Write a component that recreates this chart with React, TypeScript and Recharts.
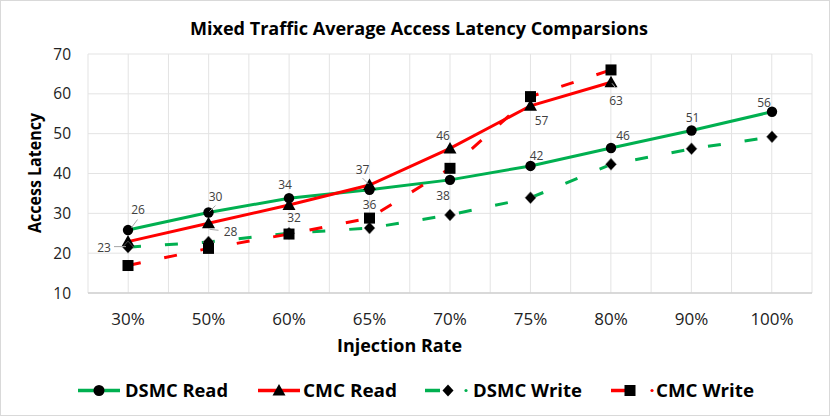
import React from 'react';
import { LineChart, Line, XAxis, YAxis, CartesianGrid, LabelList } from 'recharts';

const CATEGORIES = ['30%', '50%', '60%', '65%', '70%', '75%', '80%', '90%', '100%'];
const DSMC_READ = [25.8, 30.2, 33.8, 35.9, 38.4, 41.9, 46.4, 50.8, 55.5];
const CMC_READ = [22.9, 27.5, 32.1, 37.1, 46.3, 57.0, 62.9, null, null];
const DSMC_WRITE = [21.5, 22.8, 25.0, 26.3, 29.6, 33.9, 42.3, 46.2, 49.2];
const CMC_WRITE = [16.9, 21.2, 24.8, 28.8, 41.3, 59.3, 66.0, null, null];
const Y_TICKS = [10, 20, 30, 40, 50, 60, 70];

const TITLE = 'Mixed Traffic Average Access Latency Comparsions';
const X_TITLE = 'Injection Rate';
const Y_TITLE = 'Access Latency';

const GREEN = '#00b050';
const RED = '#ff0000';
const FONT = '"Open Sans", "DejaVu Sans", sans-serif';

// label placement (offset of label centre from point) and leader lines
const DSMC_READ_LABEL_POS: [number, number][] = [
  [10, -21], [7, -16], [-4, -14], [0, 15], [-7, 16], [6, -10], [12, -13], [1, -13], [-8, -9],
];
const DSMC_READ_LEADERS: (number[] | null)[] = [
  [3.5, -2.5, 9.5, -10.5], [1, -1, 7, -7], null, null, null, null, null, null, null,
];
const CMC_READ_LABEL_POS: [number, number][] = [
  [-24, 6], [22, 8], [5, 13], [-7, -16], [-7, -13], [11, 15], [5, 18],
];
const CMC_READ_LEADERS: (number[] | null)[] = [
  [-14, 5, -2, 5], [1, 6, 10, 7], null, [-7, -7, -1, -1], null, null, [1, 1, 5, 6],
];

const data = CATEGORIES.map((rate, i) => ({
  rate,
  dsmcRead: DSMC_READ[i],
  cmcRead: CMC_READ[i],
  dsmcWrite: DSMC_WRITE[i],
  cmcWrite: CMC_WRITE[i],
}));

const ok = (p: any) => p && p.cx != null && p.cy != null && p.value != null && !isNaN(p.cy);

const CircleDot = (p: any) =>
  ok(p) ? <circle key={`c${p.index}`} cx={p.cx} cy={p.cy} r={5.2} fill="#000" /> : <g key={`c${p.index}`} />;
const TriangleDot = (p: any) =>
  ok(p) ? (
    <path key={`t${p.index}`} d={`M${p.cx},${p.cy - 6.5} L${p.cx + 6.5},${p.cy + 5} L${p.cx - 6.5},${p.cy + 5} Z`} fill="#000" />
  ) : <g key={`t${p.index}`} />;
const DiamondDot = (p: any) =>
  ok(p) ? (
    <path key={`d${p.index}`} d={`M${p.cx},${p.cy - 6} L${p.cx + 5.5},${p.cy} L${p.cx},${p.cy + 6} L${p.cx - 5.5},${p.cy} Z`} fill="#000" stroke="#808080" strokeWidth={0.6} />
  ) : <g key={`d${p.index}`} />;
const SquareDot = (p: any) =>
  ok(p) ? <rect key={`s${p.index}`} x={p.cx - 5.5} y={p.cy - 5.5} width={11} height={11} fill="#000" /> : <g key={`s${p.index}`} />;

const makeLabel = (pos: [number, number][], leaders: (number[] | null)[]) => (props: any) => {
  const { x, y, value, index } = props;
  if (value == null || x == null || y == null) return null;
  const o = pos[index] || [0, -12];
  const l = leaders[index];
  return (
    <g key={`l${index}`}>
      {l && <line x1={x + l[0]} y1={y + l[1]} x2={x + l[2]} y2={y + l[3]} stroke="#a6a6a6" strokeWidth={1} />}
      <text x={x + o[0]} y={y + o[1]} textAnchor="middle" dominantBaseline="central" fontFamily={FONT} fontSize={12} fill="#404040">
        {Math.round(value)}
      </text>
    </g>
  );
};

const gridVerticals = (props: any) => {
  const off = props && props.offset ? props.offset : { left: 88, width: 724 };
  const out: number[] = [];
  for (let i = 0; i <= 18; i++) out.push(off.left + (off.width * i) / 18);
  return out;
};

export default function App() {
  return (
    <div style={{ position: 'absolute', left: 0, top: 0, width: 830, height: 416, background: '#fff' }}>
      <LineChart width={830} height={416} data={data} margin={{ top: 54, right: 18, bottom: 93, left: 28 }}>
        <CartesianGrid stroke="#e3e3e3" strokeWidth={1} verticalCoordinatesGenerator={gridVerticals} />
        <XAxis
          dataKey="rate"
          scale="point"
          padding={{ left: 40, right: 40 }}
          height={30}
          tickLine={false}
          tickSize={0}
          tickMargin={20}
          axisLine={{ stroke: '#d0d0d0', strokeWidth: 1.5 }}
          tick={{ fontFamily: FONT, fontSize: 17, fill: '#222' }}
          interval={0}
        />
        <YAxis
          domain={[10, 70]}
          ticks={Y_TICKS}
          width={60}
          tickLine={false}
          axisLine={false}
          tickSize={0}
          tickMargin={17}
          tick={{ fontFamily: FONT, fontSize: 15.5, fill: '#222' }}
          allowDataOverflow
        />
        <Line dataKey="dsmcRead" stroke={GREEN} strokeWidth={3} dot={CircleDot} activeDot={false} isAnimationActive={false}>
          <LabelList dataKey="dsmcRead" content={makeLabel(DSMC_READ_LABEL_POS, DSMC_READ_LEADERS)} />
        </Line>
        <Line dataKey="cmcRead" stroke={RED} strokeWidth={3} dot={TriangleDot} activeDot={false} isAnimationActive={false}>
          <LabelList dataKey="cmcRead" content={makeLabel(CMC_READ_LABEL_POS, CMC_READ_LEADERS)} />
        </Line>
        <Line dataKey="dsmcWrite" stroke={GREEN} strokeWidth={3} strokeDasharray="13 24" dot={DiamondDot} activeDot={false} isAnimationActive={false} />
        <Line dataKey="cmcWrite" stroke={RED} strokeWidth={3} strokeDasharray="13 24" dot={SquareDot} activeDot={false} isAnimationActive={false} />
      </LineChart>
      <svg width={830} height={416} style={{ position: 'absolute', left: 0, top: 0, pointerEvents: 'none' }}>
        <rect x={0.5} y={0.5} width={829} height={415} fill="none" stroke="#d9d9d9" strokeWidth={1} />
        <text x={419} y={35} textAnchor="middle" fontFamily={FONT} fontWeight="bold" fontSize={17} fill="#000" textLength={458} lengthAdjust="spacingAndGlyphs">
          {TITLE}
        </text>
        <text x={399.5} y={352} textAnchor="middle" fontFamily={FONT} fontWeight="bold" fontSize={17} fill="#000" textLength={125} lengthAdjust="spacingAndGlyphs">
          {X_TITLE}
        </text>
        <text x={0} y={0} transform="translate(41,173) rotate(-90)" textAnchor="middle" fontFamily={FONT} fontWeight="bold" fontSize={17} fill="#000" textLength={120} lengthAdjust="spacingAndGlyphs">
          {Y_TITLE}
        </text>
        {/* legend */}
        <g>
          <line x1={78} y1={390.5} x2={120} y2={390.5} stroke={GREEN} strokeWidth={3.5} />
          <circle cx={99} cy={390.5} r={5.5} fill="#000" />
          <text x={125} y={396.5} fontFamily={FONT} fontWeight="bold" fontSize={18} fill="#000" textLength={103} lengthAdjust="spacingAndGlyphs">DSMC Read</text>

          <line x1={258} y1={390.5} x2={300} y2={390.5} stroke={RED} strokeWidth={3.5} />
          <path d="M279,384 L285.5,395.5 L272.5,395.5 Z" fill="#000" />
          <text x={303} y={396.5} fontFamily={FONT} fontWeight="bold" fontSize={18} fill="#000" textLength={94} lengthAdjust="spacingAndGlyphs">CMC Read</text>

          <line x1={425} y1={390.5} x2={440} y2={390.5} stroke={GREEN} strokeWidth={3.5} />
          <path d="M448,384.5 L453.5,390.5 L448,396.5 L442.5,390.5 Z" fill="#000" />
          <circle cx={466} cy={390.5} r={1.6} fill={GREEN} />
          <text x={473} y={396.5} fontFamily={FONT} fontWeight="bold" fontSize={18} fill="#000" textLength={109} lengthAdjust="spacingAndGlyphs">DSMC Write</text>

          <line x1={611} y1={390.5} x2={626} y2={390.5} stroke={RED} strokeWidth={3.5} />
          <rect x={624.5} y={385} width={11} height={11} fill="#000" />
          <circle cx={652} cy={390.5} r={1.6} fill={RED} />
          <text x={656} y={396.5} fontFamily={FONT} fontWeight="bold" fontSize={18} fill="#000" textLength={98} lengthAdjust="spacingAndGlyphs">CMC Write</text>
        </g>
      </svg>
    </div>
  );
}
